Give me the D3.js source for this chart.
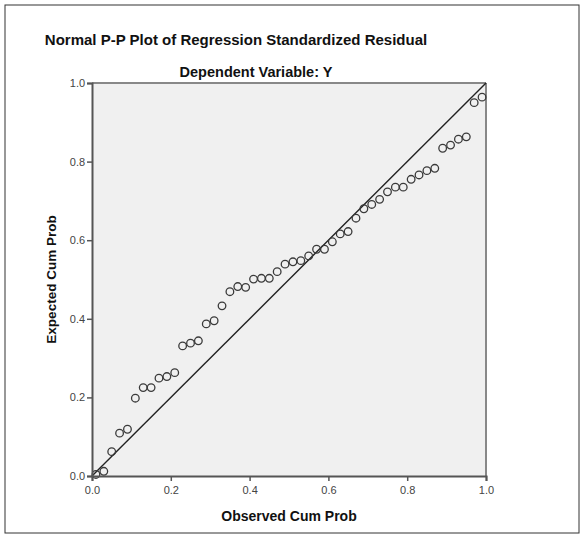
<!DOCTYPE html>
<html>
<head>
<meta charset="utf-8">
<script src="https://cdn.jsdelivr.net/npm/d3@7"></script>
<style>
  html, body { margin: 0; padding: 0; background: #fff; }
  svg { display: block; font-family: Arial, "Liberation Sans", sans-serif; }
</style>
</head>
<body>
<svg id="chart" width="584" height="535"></svg>
<script>
const titleText = "Normal P-P Plot of Regression Standardized Residual";
const subtitleText = "Dependent Variable: Y";
const xLabel = "Observed Cum Prob";
const yLabel = "Expected Cum Prob";
const tickValues = [0, 0.2, 0.4, 0.6, 0.8, 1.0];

const observed = [0.01,0.03,0.05,0.07,0.09,0.11,0.13,0.15,0.17,0.19,
                  0.21,0.23,0.25,0.27,0.29,0.31,0.33,0.35,0.37,0.39,
                  0.41,0.43,0.45,0.47,0.49,0.51,0.53,0.55,0.57,0.59,
                  0.61,0.63,0.65,0.67,0.69,0.71,0.73,0.75,0.77,0.79,
                  0.81,0.83,0.85,0.87,0.89,0.91,0.93,0.95,0.97,0.99];
const expected = [0.004,0.012,0.062,0.109,0.119,0.198,0.225,0.225,0.249,0.253,
                  0.263,0.331,0.338,0.344,0.387,0.395,0.433,0.469,0.482,0.480,
                  0.501,0.503,0.503,0.520,0.539,0.545,0.548,0.560,0.577,0.577,
                  0.596,0.616,0.622,0.656,0.680,0.691,0.704,0.723,0.735,0.735,
                  0.755,0.766,0.777,0.783,0.834,0.842,0.857,0.863,0.950,0.964];
const refLine = [[0, 0], [1, 1]];

const svg = d3.select("#chart");
const pLeft = 92, pRight = 486, pTop = 83, pBottom = 476;

// outer frame
svg.append("rect").attr("x", 5).attr("y", 5).attr("width", 574).attr("height", 528)
  .attr("fill", "none").attr("stroke", "#333").attr("stroke-width", 1);

const x = d3.scaleLinear().domain([0, 1]).range([pLeft, pRight]);
const y = d3.scaleLinear().domain([0, 1]).range([pBottom, pTop]);

// plot background
svg.append("rect").attr("x", pLeft).attr("y", pTop)
  .attr("width", pRight - pLeft).attr("height", pBottom - pTop)
  .attr("fill", "#f0f0f0");

// top and right frame
svg.append("line").attr("x1", pLeft).attr("x2", pRight).attr("y1", pTop).attr("y2", pTop)
  .attr("stroke", "#888").attr("stroke-width", 2);
svg.append("line").attr("x1", pRight).attr("x2", pRight).attr("y1", pTop).attr("y2", pBottom)
  .attr("stroke", "#888").attr("stroke-width", 2);

// reference line
svg.append("path").datum(refLine)
  .attr("d", d3.line().x(d => x(d[0])).y(d => y(d[1])))
  .attr("stroke", "#222").attr("stroke-width", 1.4).attr("fill", "none");

// points
svg.append("g").selectAll("circle").data(observed)
  .join("circle")
  .attr("cx", d => x(d))
  .attr("cy", (d, i) => y(expected[i]))
  .attr("r", 3.8)
  .attr("fill", "none")
  .attr("stroke", "#3a3a3a")
  .attr("stroke-width", 1.3);

const fmt = d3.format(".1f");
const xAxis = svg.append("g").attr("transform", `translate(0,${pBottom})`)
  .call(d3.axisBottom(x).tickValues(tickValues).tickFormat(fmt).tickSizeOuter(0).tickSize(5));
const yAxis = svg.append("g").attr("transform", `translate(${pLeft},0)`)
  .call(d3.axisLeft(y).tickValues(tickValues).tickFormat(fmt).tickSizeOuter(0).tickSize(5));

[xAxis, yAxis].forEach(a => {
  a.select(".domain").attr("stroke", "#555").attr("stroke-width", 2);
  a.selectAll(".tick line").attr("stroke", "#555").attr("stroke-width", 1.5);
  a.selectAll(".tick text").attr("fill", "#444").attr("font-size", 11)
    .attr("font-family", "Arial, 'Liberation Sans', sans-serif");
});
xAxis.selectAll(".tick text").attr("dy", "0.95em");
yAxis.selectAll(".tick text").attr("dx", "0.1em");

// titles
svg.append("text").attr("x", 236).attr("y", 45).attr("text-anchor", "middle")
  .attr("font-size", 15).attr("font-weight", "bold").attr("fill", "#111").text(titleText);
svg.append("text").attr("x", 256).attr("y", 77).attr("text-anchor", "middle")
  .attr("font-size", 14.5).attr("font-weight", "bold").attr("fill", "#111").text(subtitleText);

svg.append("text").attr("x", (pLeft + pRight) / 2).attr("y", 521).attr("text-anchor", "middle")
  .attr("font-size", 14).attr("font-weight", "bold").attr("fill", "#111").text(xLabel);
svg.append("text")
  .attr("transform", `translate(56,${(pTop + pBottom) / 2}) rotate(-90)`)
  .attr("text-anchor", "middle")
  .attr("font-size", 13.5).attr("font-weight", "bold").attr("fill", "#111").text(yLabel);
</script>
</body>
</html>
